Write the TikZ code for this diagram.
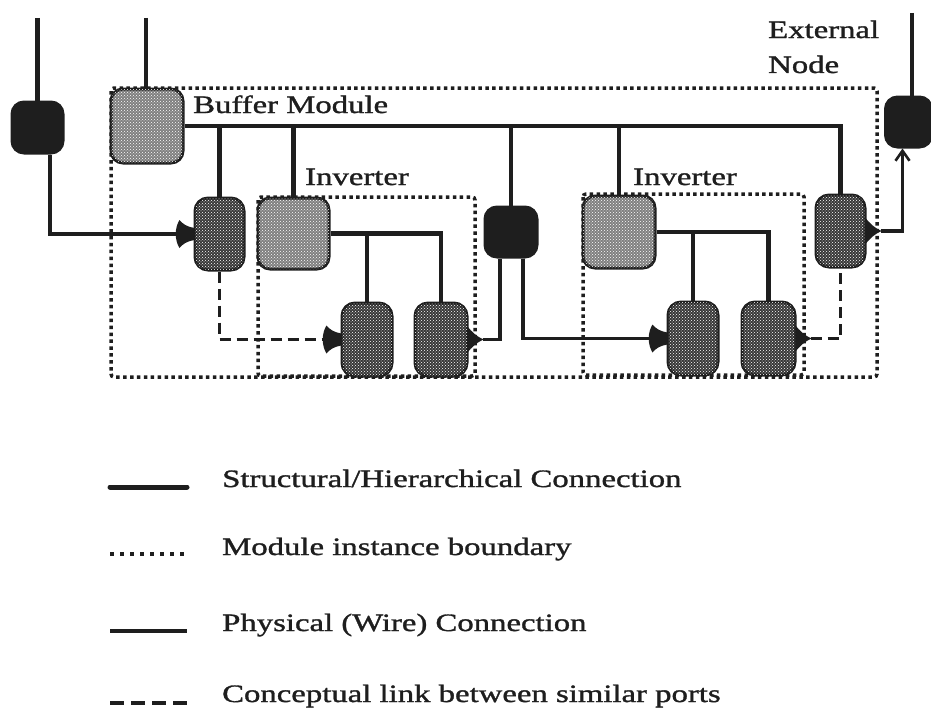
\documentclass[tikz,border=0pt]{standalone}
\usepackage{fontspec}
\setmainfont[FakeStretch=1.31,FakeBold=1.3]{Liberation Serif}
\usetikzlibrary{patterns,arrows.meta,calc}
\definecolor{ink}{HTML}{1E1E1E}
\tikzset{
  box/.style={rectangle, inner sep=0pt, draw=ink, line width=3pt},
  modnode/.style={box, rounded corners=12pt, fill=black!50, postaction={pattern=crosshatch dots, pattern color=white}},
  portnode/.style={box, rounded corners=13pt, fill=black!78, postaction={pattern=crosshatch dots, pattern color=white}},
  extnode/.style={box, rounded corners=12pt, fill=ink},
  struct/.style={draw=ink, line width=4.6pt},
  phys/.style={draw=ink, line width=3.2pt},
  concept/.style={draw=ink, line width=3.3pt, dash pattern=on 11pt off 6pt},
  bound/.style={draw=ink, line width=3.5pt, dash pattern=on 3.5pt off 3.4pt, rounded corners=3pt},
  lbl/.style={anchor=base west, inner sep=0pt, text=ink, font=\fontsize{25}{30}\selectfont},
}
\newcommand\inmark[1]{\fill[ink,shift={(#1)}] (1,-6) .. controls (-6,-7) and (-11,-10) .. (-14,-14) .. controls (-19,-6) and (-19,6) .. (-14,14) .. controls (-11,10) and (-6,7) .. (1,6) -- cycle;}
\newcommand\outmark[1]{\fill[ink,shift={(#1)}] (-1,-13) .. controls (3,-8) and (8,-3) .. (15,0) .. controls (8,3) and (3,8) .. (-1,13) -- cycle;}
\begin{document}
\begin{tikzpicture}[x=1pt,y=-1pt]
\useasboundingbox (0,0) rectangle (931,709);

% module instance boundaries
\draw[bound] (111,88) rectangle (877,377);
\draw[bound] (258,197) rectangle (475,376);
\draw[bound] (583,194) rectangle (804,375);

% nodes
\node[extnode, minimum width=51pt, minimum height=51pt] (extL) at (37.5,127.5) {};
\node[modnode, minimum width=72pt, minimum height=74pt] (buf) at (147,126) {};
\node[portnode, minimum width=49pt, minimum height=72pt] (bufpL) at (219.5,234) {};
\node[modnode, minimum width=71pt, minimum height=71pt] (inv1) at (293.5,233.5) {};
\node[portnode, minimum width=50pt, minimum height=73pt] (p1a) at (367,339.5) {};
\node[portnode, minimum width=52pt, minimum height=73pt] (p1b) at (441,339.5) {};
\node[extnode, minimum width=52pt, minimum height=50pt] (blkC) at (511,232) {};
\node[modnode, minimum width=72pt, minimum height=72pt] (inv2) at (619,232) {};
\node[portnode, minimum width=50pt, minimum height=73pt] (p2a) at (693,338.5) {};
\node[portnode, minimum width=53pt, minimum height=73pt] (p2b) at (768.5,338.5) {};
\node[portnode, minimum width=49pt, minimum height=72pt] (bufpR) at (840.5,231) {};
\node[extnode, minimum width=46pt, minimum height=50pt] (extR) at (908.5,122) {};

% marker end points
\coordinate (bufpLin) at ([xshift=-14pt]bufpL.west);
\coordinate (p1ain) at ([xshift=-14pt]p1a.west);
\coordinate (p2ain) at ([xshift=-14pt]p2a.west);
\coordinate (p1bout) at ([xshift=14pt]p1b.east);
\coordinate (p2bout) at ([xshift=14pt]p2b.east);
\coordinate (bufpRout) at ([xshift=14pt]bufpR.east);
\coordinate (topL) at (37.5,18);
\coordinate (topB) at (146,18);
\coordinate (topR) at (912,13);

% structural connections
\draw[struct] (topL) -- (extL.north);
\draw[struct] (topB) -- (topB |- buf.north);
\draw[struct] (topR) -- (topR |- extR.north);
\draw[struct] (buf.east) -| (bufpR.north);
\draw[struct] (bufpL.north) -- (bufpL.north |- buf.east);
\draw[struct] (inv1.north) -- (inv1.north |- buf.east);
\draw[struct] (blkC.north) -- (blkC.north |- buf.east);
\draw[struct] (inv2.north) -- (inv2.north |- buf.east);
\draw[struct] (inv1.east) -| (p1b.north);
\draw[struct] (p1a.north) -- (p1a.north |- inv1.east);
\draw[struct] (inv2.east) -| (p2b.north);
\draw[struct] (p2a.north) -- (p2a.north |- inv2.east);

% physical connections
\draw[phys] ([xshift=12.5pt]extL.south) |- (bufpLin);
\draw[phys] (p1bout) -| ([xshift=-11pt]blkC.south);
\draw[phys] ([xshift=12pt]blkC.south) |- (p2ain);
\draw[phys, -{Straight Barb[length=10pt,width=14pt,line width=2.6pt]}] (bufpRout) -| ([xshift=-6pt]extR.south);

% conceptual links
\draw[concept] (bufpL.south) |- (p1ain);
\draw[concept] (p2bout) -| (bufpR.south);

% port markers
\inmark{bufpL.west}
\inmark{p1a.west}
\inmark{p2a.west}
\outmark{p1b.east}
\outmark{p2b.east}
\outmark{bufpR.east}

% labels
\node[lbl] (lblBuf) at (193,113) {Buffer Module};
\node[lbl] (lblInv1) at (305,185) {Inverter};
\node[lbl] (lblInv2) at (633,185) {Inverter};
\node[lbl] (lblExt1) at (768,38) {External};
\node[lbl] (lblExt2) at (768,73) {Node};

% legend
\coordinate (lg1a) at (110,487); \coordinate (lg1b) at (187,487);
\coordinate (lg2a) at (110,554); \coordinate (lg2b) at (187,554);
\coordinate (lg3a) at (110,631); \coordinate (lg3b) at (187,631);
\coordinate (lg4a) at (110,703); \coordinate (lg4b) at (187,703);
\draw[struct, line width=5pt, line cap=round] (lg1a) -- (lg1b);
\draw[bound, line width=3.6pt, dash pattern=on 4pt off 6pt] (lg2a) -- (lg2b);
\draw[phys, line width=3.4pt] (lg3a) -- (lg3b);
\draw[concept, dash pattern=on 14pt off 7pt] (lg4a) -- (lg4b);
\node[lbl] (lgt1) at (222,487) {Structural/Hierarchical Connection};
\node[lbl] (lgt2) at (222,555) {Module instance boundary};
\node[lbl] (lgt3) at (222,631) {Physical (Wire) Connection};
\node[lbl] (lgt4) at (222,702) {Conceptual link between similar ports};
\end{tikzpicture}
\end{document}
